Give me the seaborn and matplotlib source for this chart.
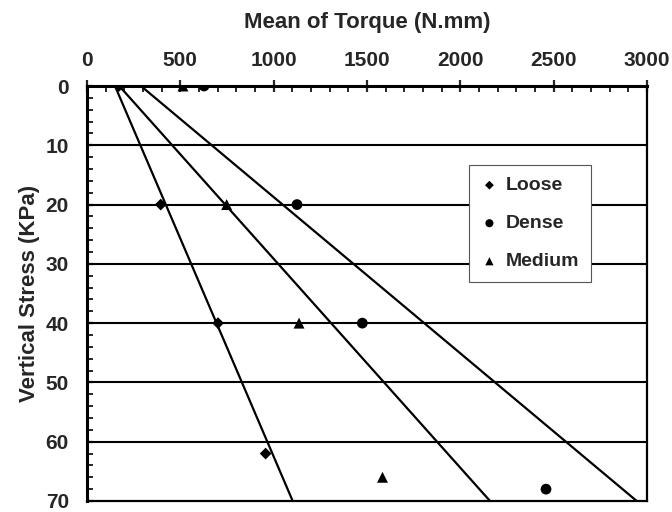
import matplotlib
matplotlib.use("Agg")
import matplotlib.pyplot as plt
from matplotlib.ticker import MultipleLocator
import seaborn as sns
import pandas as pd

sns.set_style("white")
plt.rcParams['font.family'] = ['Liberation Sans', 'DejaVu Sans']
plt.rcParams['font.weight'] = 'bold'

# Data
loose_torque = [171, 395, 702, 957]
loose_stress = [0, 20, 40, 62]
dense_torque = [627, 1125, 1475, 2459]
dense_stress = [0, 20, 40, 68]
medium_torque = [514, 748, 1136, 1583]
medium_stress = [0, 20, 40, 66]

# Trend lines (torque at stress 0 and 70)
line_stress = [0, 70]
loose_line = [150, 1102]
medium_line = [173, 2159]
dense_line = [289, 2945]

series = ["Loose", "Dense", "Medium"]
markers = {"Loose": "D", "Dense": "o", "Medium": "^"}
msize = {"Loose": 36, "Dense": 60, "Medium": 62}

pts = pd.concat([
    pd.DataFrame({"torque": loose_torque, "stress": loose_stress, "series": "Loose"}),
    pd.DataFrame({"torque": dense_torque, "stress": dense_stress, "series": "Dense"}),
    pd.DataFrame({"torque": medium_torque, "stress": medium_stress, "series": "Medium"}),
])
lines = pd.concat([
    pd.DataFrame({"torque": loose_line, "stress": line_stress, "series": "Loose"}),
    pd.DataFrame({"torque": medium_line, "stress": line_stress, "series": "Medium"}),
    pd.DataFrame({"torque": dense_line, "stress": line_stress, "series": "Dense"}),
])

fig = plt.figure(figsize=(6.72, 5.12), dpi=100)
ax = fig.add_axes([87/672, 11/512, 560/672, 415/512])

for s in ["Loose", "Medium", "Dense"]:
    d = lines[lines.series == s]
    sns.lineplot(data=d, x="torque", y="stress", color="black", lw=1.6,
                 ax=ax, legend=False, sort=False, estimator=None)

for s in series:
    d = pts[pts.series == s]
    sns.scatterplot(data=d, x="torque", y="stress", marker=markers[s], s=msize[s],
                    color="black", edgecolor="none", zorder=5, label=s, ax=ax)

ax.set_xlim(0, 3000)
ax.set_ylim(70, 0)
ax.xaxis.tick_top()
ax.xaxis.set_label_position("top")
ax.xaxis.set_major_locator(MultipleLocator(500))
ax.xaxis.set_minor_locator(MultipleLocator(100))
ax.yaxis.set_major_locator(MultipleLocator(10))
ax.yaxis.set_minor_locator(MultipleLocator(2))
ax.tick_params(axis="x", which="major", direction="inout", length=8.6, width=1.6,
               labelsize=15, pad=7, top=True, bottom=False)
ax.tick_params(axis="x", which="minor", direction="in", length=4.5, width=1.4,
               top=True, bottom=False)
ax.tick_params(axis="y", which="major", direction="in", length=4, width=1.6,
               labelsize=15, pad=13, left=True)
ax.tick_params(axis="y", which="minor", direction="in", length=4, width=1.4, left=True)
for lab in ax.get_xticklabels() + ax.get_yticklabels():
    lab.set_fontweight("bold")

ax.grid(False)
for y in range(10, 70, 10):
    ax.axhline(y, color="black", lw=1.5, zorder=1)

for sp in ax.spines.values():
    sp.set_color("black")
    sp.set_linewidth(1.6)
ax.spines["top"].set_linewidth(2.2)
ax.spines["left"].set_linewidth(2.2)

ax.set_xlabel("Mean of Torque (N.mm)", fontsize=16, fontweight="bold", labelpad=17)
ax.set_ylabel("Vertical Stress (KPa)", fontsize=16, fontweight="bold", labelpad=4)

leg = ax.legend(loc="upper left", bbox_to_anchor=((469-87)/560, 1-(166-87)/415),
                frameon=True, fancybox=False, edgecolor="#555555", framealpha=1,
                prop={"weight": "bold", "size": 14}, handletextpad=0.4,
                labelspacing=1.05, borderpad=0.6, handlelength=0.9,
                scatterpoints=1, markerscale=0.75, borderaxespad=0)
leg.get_frame().set_linewidth(0.8)
leg.set_zorder(10)

fig.savefig("out.png", dpi=100)
